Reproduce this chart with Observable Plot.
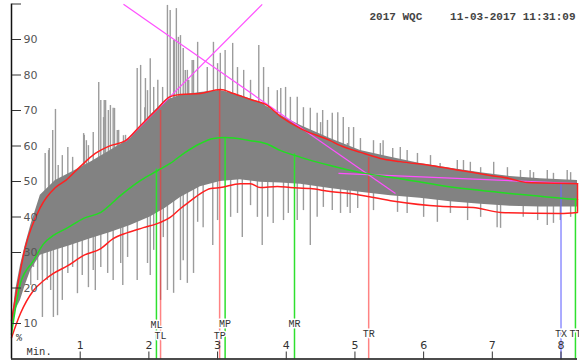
<!DOCTYPE html>
<html><head><meta charset="utf-8">
<script src="https://cdn.jsdelivr.net/npm/d3@7"></script>
<script src="https://cdn.jsdelivr.net/npm/@observablehq/plot@0.6"></script>
<style>html,body{margin:0;padding:0;background:#fff}svg{display:block}</style>
</head><body><div id="chart"></div>
<script>
// ---------- data ----------
const titleLeft = "2017 WQC";
const titleRight = "11-03-2017 11:31:09";
const xUnitLabel = "Min.";
const yUnitLabel = "%";
const xTicks = [1, 2, 3, 4, 5, 6, 7, 8];
const yTicks = [10, 20, 30, 40, 50, 60, 70, 80, 90, 100];

// dense grey body of the signal
const bodyX   = [0.00, 0.06, 0.13, 0.20, 0.28, 0.42, 0.64, 0.86, 1.15, 1.44, 1.73, 2.02, 2.24, 2.46, 2.75, 3.04, 3.33, 3.62, 3.92, 4.21, 4.64, 5.08, 5.52, 5.95, 6.39, 6.83, 7.26, 7.70, 8.24];
const bodyTop = [9.4, 19.3, 26.3, 32.0, 37.6, 46.1, 50.3, 52.5, 55.4, 58.7, 62.1, 68.6, 72.8, 74.2, 75.1, 75.6, 74.2, 72.3, 68.6, 65.8, 62.1, 58.7, 56.8, 55.1, 53.7, 52.5, 51.4, 50.8, 50.3];
const bodyBot = [6.6, 13.7, 16.5, 20.7, 24.9, 29.2, 30.6, 32.0, 33.9, 35.6, 37.6, 40.0, 42.5, 45.5, 48.5, 50.0, 50.5, 49.8, 49.6, 49.2, 48.0, 47.0, 46.0, 45.3, 44.3, 43.6, 43.0, 42.8, 42.8];

// spikes above the body: position and tip value
const upX   = [0.49, 0.54, 0.55, 0.60, 0.64, 0.68, 0.74, 0.82, 0.89, 1.05, 1.06, 1.09, 1.12, 1.19, 1.27, 1.30, 1.34, 1.35, 1.37, 1.41, 1.44, 1.48, 1.50, 1.54, 1.56, 1.63, 1.66, 1.70, 1.83, 1.88, 1.94, 1.95, 1.98, 2.02, 2.07, 2.13, 2.20, 2.21, 2.27, 2.31, 2.36, 2.37, 2.40, 2.43, 2.46, 2.50, 2.53, 2.56, 2.58, 2.63, 2.65, 2.71, 2.85, 2.94, 3.00, 3.04, 3.11, 3.22, 3.29, 3.38, 3.48, 3.60, 3.67, 3.74, 3.87, 3.92, 3.99, 4.06, 4.16, 4.25, 4.35, 4.45, 4.50, 4.53, 4.60, 4.67, 4.75, 4.83, 4.89, 4.91, 4.98, 5.08, 5.27, 5.37, 5.41, 5.55, 5.66, 5.76, 5.91, 6.10, 6.24, 6.49, 6.58, 6.68, 6.83, 7.02, 7.22, 7.41, 7.55, 7.60, 7.80, 7.89, 8.09, 8.14];
const upTip = [57.9, 58.7, 59.3, 64.4, 70.3, 54.5, 57.3, 59.6, 56.8, 63.5, 63.0, 61.5, 60.1, 63.8, 77.9, 72.8, 68.0, 72.8, 72.8, 70.0, 71.4, 70.6, 70.6, 64.4, 64.4, 62.9, 63.0, 60.7, 81.8, 82.7, 70.8, 79.0, 75.6, 84.6, 76.5, 78.5, 76.5, 71.4, 99.6, 98.2, 89.7, 89.7, 98.7, 90.6, 91.1, 87.5, 81.3, 81.3, 78.5, 84.1, 84.1, 89.2, 82.1, 89.2, 83.2, 86.1, 86.9, 88.9, 82.1, 81.3, 78.5, 88.3, 82.1, 76.5, 75.6, 76.2, 76.5, 73.7, 73.7, 70.8, 70.6, 69.2, 66.6, 70.0, 67.2, 69.2, 69.4, 68.0, 60.7, 65.2, 65.2, 62.1, 61.5, 60.7, 61.5, 59.3, 59.6, 58.7, 57.9, 57.3, 55.1, 55.9, 55.9, 55.4, 53.9, 55.4, 53.9, 53.1, 53.1, 52.5, 53.1, 52.3, 53.1, 52.5];

// spikes below the body: position and tip value
const dnX   = [0.28, 0.32, 0.38, 0.45, 0.45, 0.52, 0.57, 0.61, 0.67, 0.74, 0.82, 0.89, 0.96, 1.03, 1.12, 1.19, 1.22, 1.30, 1.40, 1.48, 1.59, 1.62, 1.69, 1.83, 1.98, 2.02, 2.07, 2.17, 2.21, 2.27, 2.36, 2.46, 2.50, 2.56, 2.65, 2.71, 2.79, 2.93, 3.00, 3.19, 3.29, 3.36, 3.48, 3.58, 3.65, 3.73, 3.81, 3.96, 4.03, 4.16, 4.25, 4.35, 4.45, 4.54, 4.67, 4.79, 4.89, 4.93, 5.04, 5.27, 5.62, 5.76, 6.00, 6.20, 6.39, 6.64, 6.83, 7.07, 7.12, 7.45, 7.66, 7.80, 7.89, 7.99, 8.14];
const dnTip = [20.7, 25.8, 22.1, 11.7, 24.9, 22.1, 19.3, 11.7, 12.2, 16.5, 24.1, 25.8, 18.4, 23.5, 20.1, 24.9, 19.3, 25.8, 24.1, 22.1, 26.9, 20.7, 28.6, 22.1, 26.9, 23.5, 30.6, 16.5, 34.2, 19.3, 18.5, 22.1, 27.7, 21.3, 24.1, 38.5, 37.0, 32.0, 39.0, 39.9, 41.0, 34.2, 43.2, 39.9, 32.0, 39.9, 38.2, 39.0, 41.0, 39.0, 41.8, 32.0, 39.9, 42.7, 41.8, 41.0, 42.7, 41.0, 42.4, 41.8, 41.3, 41.0, 39.9, 38.5, 41.0, 39.0, 39.9, 37.0, 36.8, 39.9, 39.0, 37.6, 38.2, 39.0, 39.9];

// upper envelope (red)
const upperX = [0.00, 0.20, 0.42, 0.64, 0.79, 1.00, 1.22, 1.44, 1.66, 1.88, 2.10, 2.31, 2.46, 2.75, 3.04, 3.23, 3.48, 3.70, 3.92, 4.21, 4.64, 4.79, 5.08, 5.37, 5.66, 6.10, 6.54, 6.97, 7.26, 7.51, 8.24];
const upperY = [10.8, 31.4, 42.7, 48.3, 50.3, 54.2, 57.9, 60.1, 61.5, 65.8, 70.0, 73.9, 74.5, 74.8, 75.9, 74.8, 73.1, 71.7, 68.3, 64.9, 61.5, 60.1, 58.2, 56.5, 55.6, 54.5, 53.1, 51.7, 50.8, 49.7, 49.4];
// mean (green)
const meanX = [0.00, 0.13, 0.32, 0.47, 0.61, 0.82, 1.05, 1.30, 1.59, 1.88, 2.13, 2.31, 2.53, 2.75, 2.94, 3.11, 3.48, 3.70, 3.92, 4.21, 4.64, 5.08, 5.66, 6.25, 7.12, 8.24];
const meanY = [7.0, 21.3, 27.7, 32.5, 34.8, 37.0, 39.6, 41.3, 46.1, 50.3, 53.1, 55.1, 58.2, 60.7, 62.1, 62.4, 61.5, 60.7, 58.7, 56.8, 54.5, 52.5, 50.8, 48.9, 46.9, 44.9];
// lower envelope (red)
const lowerX = [0.00, 0.13, 0.32, 0.47, 0.61, 0.82, 1.05, 1.30, 1.48, 1.69, 1.92, 2.17, 2.31, 2.46, 2.61, 2.75, 2.90, 3.04, 3.33, 3.48, 3.62, 3.87, 4.06, 4.35, 4.64, 4.93, 5.52, 6.24, 6.72, 7.12, 7.99, 8.24];
const lowerY = [6.0, 12.8, 19.3, 22.1, 24.1, 26.3, 29.2, 31.1, 33.9, 35.6, 37.0, 38.5, 39.9, 42.4, 44.6, 46.6, 48.0, 48.3, 49.4, 49.4, 48.3, 48.6, 48.3, 48.0, 47.2, 46.6, 44.6, 43.0, 42.7, 41.3, 41.0, 41.3];

// magenta trend lines (start, end)
const trendNames = ["rise", "fall", "tail"];
const trendX1 = [1.66, 1.63, 4.76];
const trendY1 = [61.3, 99.9, 52.3];
const trendX2 = [3.65, 5.59, 8.24];
const trendY2 = [99.9, 46.6, 49.4];

// vertical markers
const markerNames = ["ML", "TL", "TP", "MP", "MR", "TR", "TX", "TT"];
const markerX     = [2.11, 2.17, 3.03, 3.11, 4.12, 5.20, 8.00, 8.21];
const markerTop   = [53.5, 70.0, 75.9, 62.4, 57.8, 56.8, 49.4, 45.2];
const markerKind  = ["mean", "top", "top", "mean", "mean", "top", "end", "mean"];
const markerLabelY = [9.7, 6.5, 6.4, 9.9, 9.9, 7.2, 7.2, 7.2];

// ---------- chart ----------
const kindColor = {mean: "#2ee02e", top: "#ff3030", end: "#6a6aff"};
const kindOpacity = {mean: 1, top: 0.6, end: 0.75};
const mono = "'Liberation Mono', 'DejaVu Sans Mono', monospace";
const sans = "'DejaVu Sans', Verdana, sans-serif";
const last = a => a[a.length - 1];
// spikes are anchored inside the grey body (their base is hidden by it)
const bodyMid = d3.scaleLinear(bodyX, bodyX.map((_, i) => (bodyTop[i] + bodyBot[i]) / 2));

const chart = Plot.plot({
  width: 579,
  height: 362,
  marginLeft: 11,
  marginRight: 2,
  marginTop: 3.5,
  marginBottom: 3.5,
  x: {domain: [0, 8.24], axis: null},
  y: {domain: [0, 100], axis: null},
  style: {background: "#fff", overflow: "visible"},
  marks: [
    Plot.ruleX(upX, {x: upX, y1: upX.map(bodyMid), y2: upTip, stroke: "#9c9c9c", strokeWidth: 1.4}),
    Plot.ruleX(dnX, {x: dnX, y1: dnX.map(bodyMid), y2: dnTip, stroke: "#9c9c9c", strokeWidth: 1.4}),
    Plot.areaY(bodyX, {x: bodyX, y1: bodyBot, y2: bodyTop, fill: "#828282"}),
    Plot.ruleX(markerNames, {x: markerX, y1: 0, y2: markerTop,
      stroke: (d, i) => kindColor[markerKind[i]], strokeOpacity: (d, i) => kindOpacity[markerKind[i]], strokeWidth: 1.5}),
    Plot.link(trendNames, {x1: trendX1, y1: trendY1, x2: trendX2, y2: trendY2, stroke: "#ff50ff", strokeWidth: 1.2}),
    Plot.line(lowerX, {x: lowerX, y: lowerY, stroke: "#ff2020", strokeWidth: 1.5, curve: "monotone-x"}),
    Plot.line(upperX, {x: upperX, y: upperY, stroke: "#ff2020", strokeWidth: 1.5, curve: "monotone-x"}),
    Plot.line(meanX, {x: meanX, y: meanY, stroke: "#22dd22", strokeWidth: 1.5, curve: "monotone-x"}),
    Plot.ruleX([last(upperX)], {y1: last(lowerY), y2: last(upperY), stroke: "#ff2020", strokeWidth: 1.5}),
    Plot.ruleX([0], {stroke: "#111", strokeWidth: 1.5}),
    Plot.ruleY([0], {stroke: "#111", strokeWidth: 1.5}),
    Plot.axisY(yTicks, {anchor: "right", frameAnchor: "left", tickSize: 9, tickPadding: 3, label: null,
      tickFormat: d => d === 100 ? "" : d, stroke: "#333", fill: "#555", fontSize: 11, fontFamily: sans}),
    Plot.axisX(xTicks, {anchor: "top", frameAnchor: "bottom", tickSize: 8, tickPadding: 2, label: null,
      stroke: "#333", fill: "#333", fontSize: 11, fontFamily: sans}),
    Plot.text(markerNames, {x: markerX, y: markerLabelY, text: d => d, fill: "#333", stroke: "#fff", strokeWidth: 3,
      fontSize: 10, fontFamily: mono}),
    Plot.text([xUnitLabel], {frameAnchor: "bottom-left", dx: 15, dy: -4.5, textAnchor: "start", fill: "#333",
      stroke: "#fff", strokeWidth: 4, fontSize: 10.5, fontFamily: mono}),
    Plot.text([yUnitLabel], {frameAnchor: "bottom-left", dx: 4.5, dy: -18.5, fill: "#333", fontSize: 10, fontFamily: mono}),
    Plot.text([titleRight], {frameAnchor: "top-right", dx: -2, dy: 8.5, textAnchor: "end", fill: "#444",
      fontSize: 11, fontWeight: "bold", fontFamily: mono}),
    Plot.text([titleLeft], {frameAnchor: "top-right", dx: -208, dy: 8.5, textAnchor: "start", fill: "#444",
      fontSize: 11, fontWeight: "bold", fontFamily: mono})
  ]
});
document.getElementById("chart").append(chart);
</script>
</body></html>
